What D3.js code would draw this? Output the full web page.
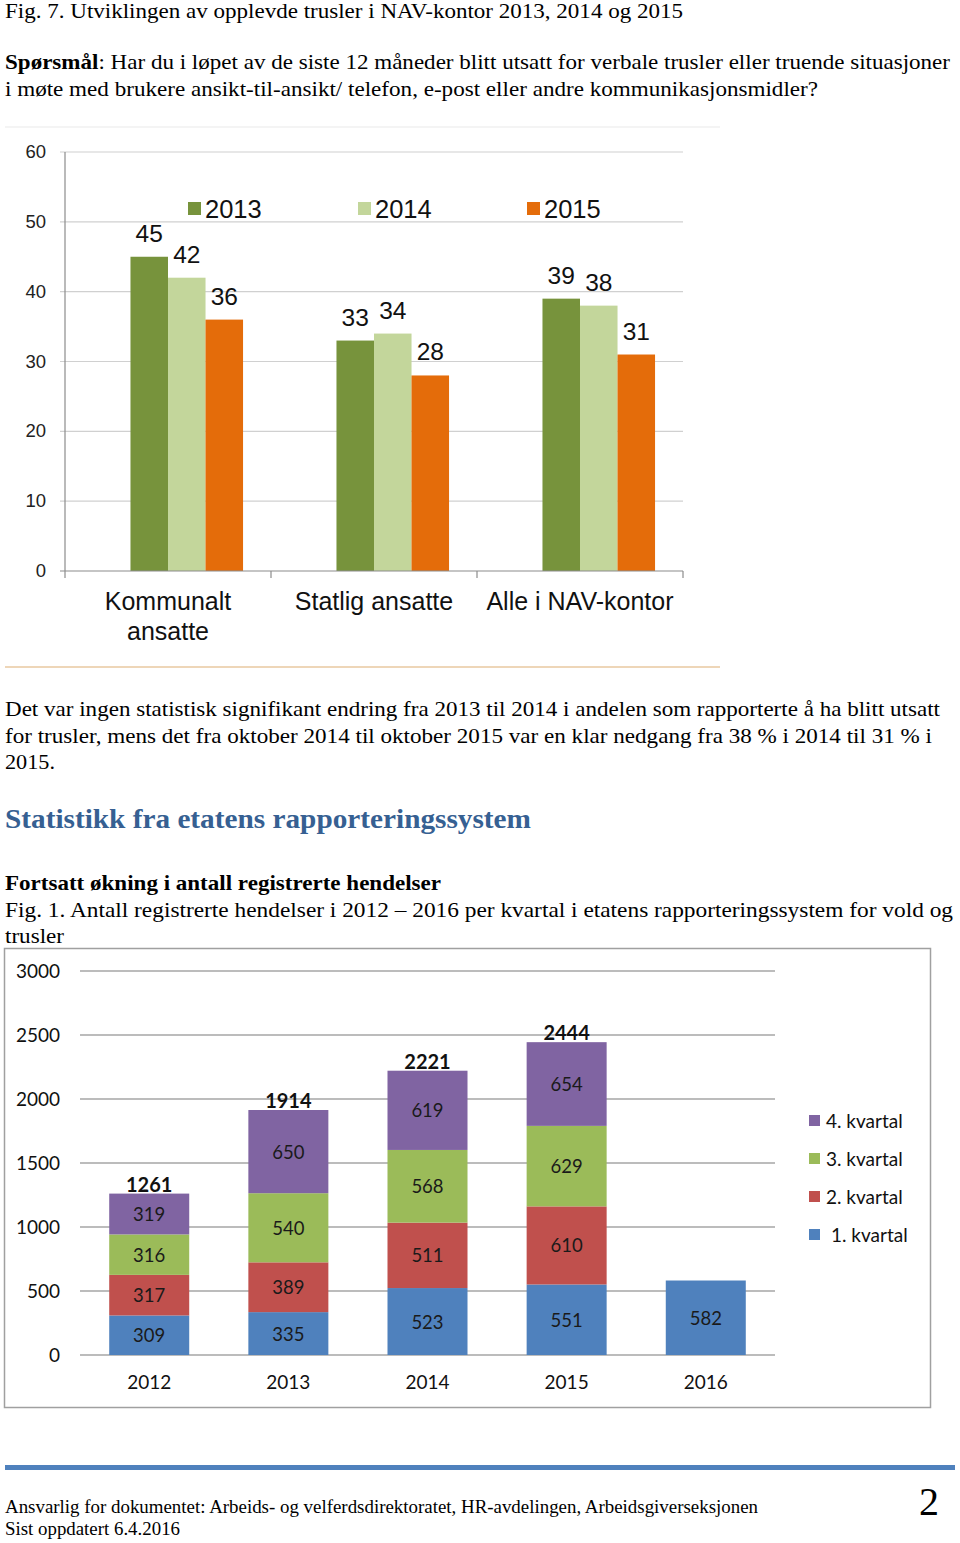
<!DOCTYPE html>
<html><head><meta charset="utf-8">
<script src="https://cdn.jsdelivr.net/npm/d3@7"></script>
<style>body{margin:0;background:#fff}svg{display:block}</style>
</head><body><svg id="page" width="960" height="1543"></svg>
<script>
// ---- Chart 1 data ----
const groups1 = ["Kommunalt ansatte", "Statlig ansatte", "Alle i NAV-kontor"];
const years1 = ["2013", "2014", "2015"];
const v2013 = [45, 33, 39];
const v2014 = [42, 34, 38];
const v2015 = [36, 28, 31];
const ticks1 = [0, 10, 20, 30, 40, 50, 60];
// ---- Chart 2 data ----
const years2 = ["2012", "2013", "2014", "2015", "2016"];
const q1 = [309, 335, 523, 551, 582];
const q2 = [317, 389, 511, 610, 0];
const q3 = [316, 540, 568, 629, 0];
const q4 = [319, 650, 619, 654, 0];
const totals2 = [1261, 1914, 2221, 2444, null];
const quarters = ["1. kvartal", "2. kvartal", "3. kvartal", "4. kvartal"];
const ticks2 = [0, 500, 1000, 1500, 2000, 2500, 3000];

const svg = d3.select("#page");
const SERIF = "'Liberation Serif','Times New Roman',serif";

function docText(x, y, parts, size, len, opts = {}) {
  const t = svg.append("text").attr("x", x).attr("y", y)
    .attr("font-family", SERIF).attr("font-size", size)
    .attr("fill", opts.fill || "#000");
  if (len) t.attr("textLength", len).attr("lengthAdjust", "spacingAndGlyphs");
  if (opts.bold) t.attr("font-weight", "bold");
  parts.forEach(p => {
    const s = t.append("tspan").text(typeof p === "string" ? p : p.t);
    if (p.b) s.attr("font-weight", "bold");
  });
  return t;
}

// ---- document text ----
docText(5, 18, ["Fig. 7. Utviklingen av opplevde trusler i NAV-kontor 2013, 2014 og 2015"], 21, 678);
docText(5, 69, [{t: "Spørsmål", b: true}, ": Har du i løpet av de siste 12 måneder blitt utsatt for verbale trusler eller truende situasjoner"], 21, 945);
docText(5, 96, ["i møte med brukere ansikt-til-ansikt/ telefon, e-post eller andre kommunikasjonsmidler?"], 21, 813);

docText(5, 716, ["Det var ingen statistisk signifikant endring fra 2013 til 2014 i andelen som rapporterte å ha blitt utsatt"], 21, 935);
docText(5, 743, ["for trusler, mens det fra oktober 2014 til oktober 2015 var en klar nedgang fra 38 % i 2014 til 31 % i"], 21, 927);
docText(5, 769, ["2015."], 21, 50);
docText(5, 828, ["Statistikk fra etatens rapporteringssystem"], 28, 526, {bold: true, fill: "#366092"});
docText(5, 890, ["Fortsatt økning i antall registrerte hendelser"], 21, 436, {bold: true});
docText(5, 917, ["Fig. 1. Antall registrerte hendelser i 2012 – 2016 per kvartal i etatens rapporteringssystem for vold og"], 21, 948);
docText(5, 943, ["trusler"], 21, 59);

// footer
svg.append("rect").attr("x", 5).attr("y", 1465).attr("width", 950).attr("height", 5).attr("fill", "#4f81bd");
docText(5, 1513, ["Ansvarlig for dokumentet: Arbeids- og velferdsdirektoratet, HR-avdelingen, Arbeidsgiverseksjonen"], 18, 753);
docText(5, 1535, ["Sist oppdatert 6.4.2016"], 18, 175);
docText(929, 1515, ["2"], 40, null).attr("text-anchor", "middle");

// ---- Chart 1 ----
(function () {
  const SANS = "'Liberation Sans',Arial,sans-serif";
  const g = svg.append("g");
  g.append("line").attr("x1", 5).attr("x2", 720).attr("y1", 127).attr("y2", 127).attr("stroke", "#f0f0f0").attr("stroke-width", 1.5);
  g.append("line").attr("x1", 5).attr("x2", 720).attr("y1", 667).attr("y2", 667).attr("stroke", "#e8c9a0").attr("stroke-width", 1.5);

  const x0 = d3.scaleBand().domain(groups1).range([65, 683]);
  const x1 = d3.scaleBand().domain(["_", ...years1]).range([0, x0.bandwidth()]).paddingOuter(0.745).paddingInner(0);
  const y = d3.scaleLinear().domain([0, 60]).range([571, 152]);
  const colors = {"2013": "#77933c", "2014": "#c3d69b", "2015": "#e46c0a"};
  const series = {"2013": v2013, "2014": v2014, "2015": v2015};

  g.selectAll(".g1").data(ticks1.filter(d => d > 0)).join("line")
    .attr("x1", 60).attr("x2", 683).attr("y1", d => y(d)).attr("y2", d => y(d))
    .attr("stroke", "#d0d0d0").attr("stroke-width", 1.2);
  g.selectAll(".t1").data(ticks1).join("text")
    .attr("x", 46).attr("y", d => y(d) + 6).attr("text-anchor", "end")
    .attr("font-family", SANS).attr("font-size", 18.5).attr("fill", "#222").text(d => d);

  years1.forEach(yr => {
    g.selectAll(".b" + yr).data(series[yr]).join("rect")
      .attr("x", (d, i) => x0(groups1[i]) + x1(yr))
      .attr("width", x1.bandwidth())
      .attr("y", d => y(d)).attr("height", d => y(0) - y(d))
      .attr("fill", colors[yr]);
    g.selectAll(".l" + yr).data(series[yr]).join("text")
      .attr("x", (d, i) => x0(groups1[i]) + x1(yr) + x1.bandwidth() / 2)
      .attr("y", d => y(d) - 15).attr("text-anchor", "middle")
      .attr("font-family", SANS).attr("font-size", 24.5).attr("fill", "#111").text(d => d);
  });

  g.append("line").attr("x1", 65).attr("x2", 65).attr("y1", 152).attr("y2", 571).attr("stroke", "#8c8c8c").attr("stroke-width", 1.2);
  g.append("line").attr("x1", 60).attr("x2", 683).attr("y1", 571).attr("y2", 571).attr("stroke", "#8c8c8c").attr("stroke-width", 1.2);
  g.selectAll(".tk").data([...groups1.map(d => x0(d)), 683]).join("line")
    .attr("x1", d => d).attr("x2", d => d).attr("y1", 571).attr("y2", 578)
    .attr("stroke", "#8c8c8c").attr("stroke-width", 1.2);

  const catLines = {"Kommunalt ansatte": ["Kommunalt", "ansatte"], "Statlig ansatte": ["Statlig ansatte"], "Alle i NAV-kontor": ["Alle i NAV-kontor"]};
  groups1.forEach(c => {
    catLines[c].forEach((ln, k) => {
      g.append("text").attr("x", x0(c) + x0.bandwidth() / 2).attr("y", 610 + k * 30)
        .attr("text-anchor", "middle").attr("font-family", SANS).attr("font-size", 25)
        .attr("fill", "#111").text(ln);
    });
  });

  const legX = [188, 358, 527];
  years1.forEach((yr, i) => {
    g.append("rect").attr("x", legX[i]).attr("y", 202).attr("width", 13).attr("height", 13).attr("fill", colors[yr]);
    g.append("text").attr("x", legX[i] + 17).attr("y", 218).attr("font-family", SANS).attr("font-size", 25.5)
      .attr("fill", "#111").text(yr);
  });
})();

// ---- Chart 2 ----
(function () {
  const CAL = "Lato,'Open Sans',sans-serif";
  const g = svg.append("g");
  g.append("rect").attr("x", 4.5).attr("y", 948.5).attr("width", 926).attr("height", 459)
    .attr("fill", "none").attr("stroke", "#a0a0a0").attr("stroke-width", 1.5);

  const x = d3.scaleBand().domain(years2).range([80, 775]).paddingInner(0.425).paddingOuter(0.21);
  const y = d3.scaleLinear().domain([0, 3000]).range([1355, 971]);
  const colors = ["#4f81bd", "#c0504d", "#9bbb59", "#8064a2"];
  const data = years2.map((yr, i) => ({yr, q1: q1[i], q2: q2[i], q3: q3[i], q4: q4[i]}));
  const stack = d3.stack().keys(["q1", "q2", "q3", "q4"])(data);

  g.selectAll(".g2").data(ticks2).join("line")
    .attr("x1", 80).attr("x2", 775).attr("y1", d => y(d)).attr("y2", d => y(d))
    .attr("stroke", "#a6a6a6").attr("stroke-width", 1.3);
  g.selectAll(".t2").data(ticks2).join("text")
    .attr("x", 60).attr("y", d => y(d) + 7).attr("text-anchor", "end")
    .attr("font-family", CAL).attr("font-size", 19).attr("fill", "#111").text(d => d);

  stack.forEach((layer, li) => {
    g.selectAll(".s" + li).data(layer.filter(d => d[1] - d[0] > 0)).join("rect")
      .attr("x", d => x(d.data.yr)).attr("width", x.bandwidth())
      .attr("y", d => y(d[1])).attr("height", d => y(d[0]) - y(d[1]))
      .attr("fill", colors[li]);
    g.selectAll(".sl" + li).data(layer.filter(d => d[1] - d[0] > 0)).join("text")
      .attr("x", d => x(d.data.yr) + x.bandwidth() / 2)
      .attr("y", d => (y(d[0]) + y(d[1])) / 2 + 7)
      .attr("text-anchor", "middle").attr("font-family", CAL).attr("font-size", 18.5)
      .attr("fill", "#1a1a1a").text(d => d[1] - d[0]);
  });

  g.selectAll(".tot").data(data.filter((d, i) => totals2[i] != null)).join("text")
    .attr("x", d => x(d.yr) + x.bandwidth() / 2)
    .attr("y", d => y(totals2[years2.indexOf(d.yr)]) - 2)
    .attr("text-anchor", "middle").attr("font-family", CAL).attr("font-size", 20)
    .attr("font-weight", "bold").attr("fill", "#111").text(d => totals2[years2.indexOf(d.yr)]);

  g.selectAll(".xl").data(years2).join("text")
    .attr("x", d => x(d) + x.bandwidth() / 2).attr("y", 1389).attr("text-anchor", "middle")
    .attr("font-family", CAL).attr("font-size", 19).attr("fill", "#111").text(d => d);

  const legY = [1235, 1197, 1159, 1121];
  quarters.forEach((q, i) => {
    g.append("rect").attr("x", 809).attr("y", legY[i] - 6).attr("width", 11).attr("height", 11).attr("fill", colors[i]);
    g.append("text").attr("x", i === 0 ? 831 : 826).attr("y", legY[i] + 7)
      .attr("font-family", CAL).attr("font-size", 19).attr("fill", "#111").text(q);
  });
})();
</script></body></html>
